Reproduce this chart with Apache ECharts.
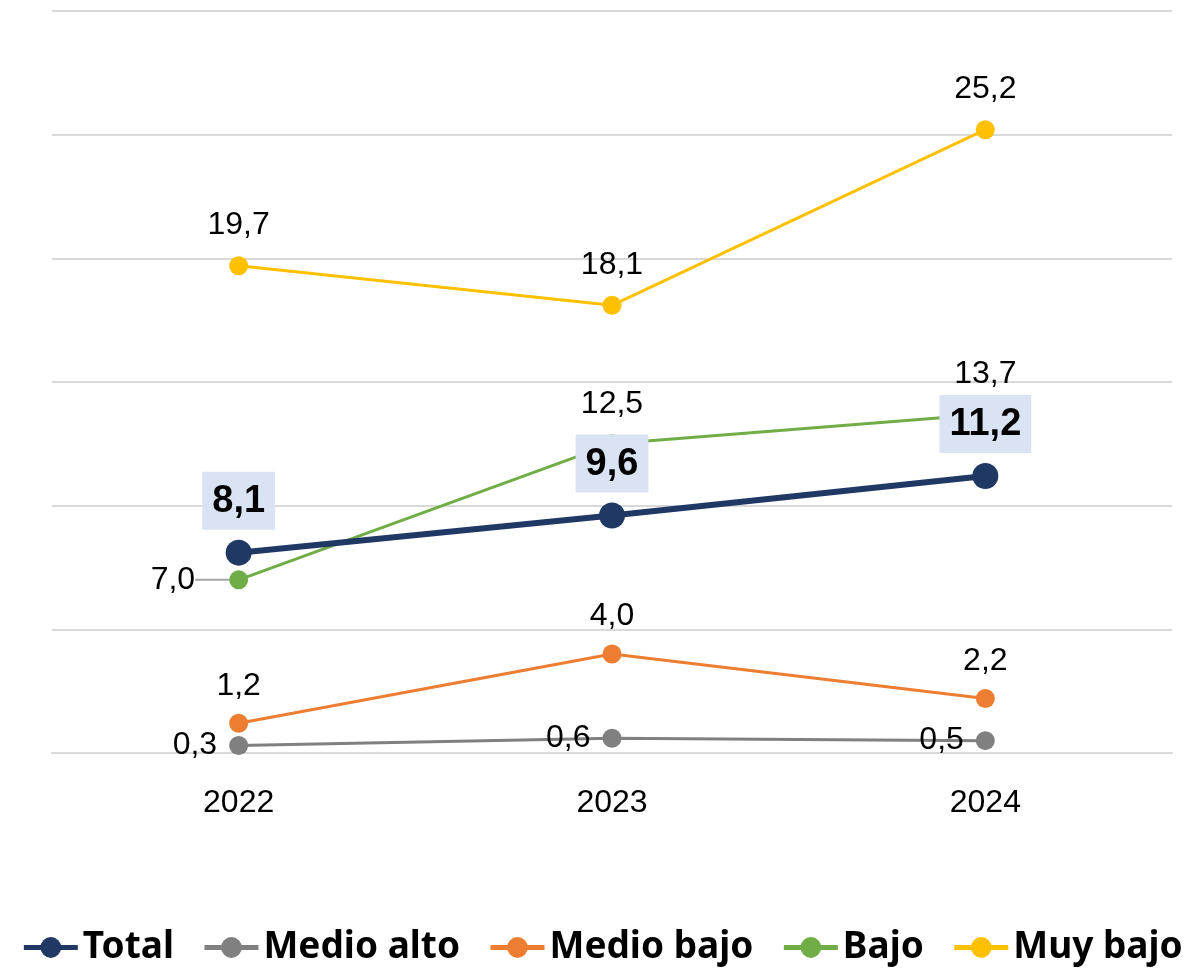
<!DOCTYPE html>
<html>
<head>
<meta charset="utf-8">
<script src="https://cdn.jsdelivr.net/npm/echarts@6/dist/echarts.min.js"></script>
<style>
  html, body { margin: 0; padding: 0; background: #fff; }
  #main { width: 1204px; height: 968px; }
</style>
</head>
<body>
<div id="main"></div>
<script>
const years = ['2022', '2023', '2024'];
const total = [8.1, 9.6, 11.2];
const medioAlto = [0.3, 0.6, 0.5];
const medioBajo = [1.2, 4.0, 2.2];
const bajo = [7.0, 12.5, 13.7];
const muyBajo = [19.7, 18.1, 25.2];

// comma decimals, as in the original
const fmt = p => Number(p.value).toFixed(1).replace('.', ',');
const labelFont = 'Liberation Sans';

var chart = echarts.init(document.getElementById('main'));

function plain(name, data, color, pos, dist) {
  return {
    name: name,
    type: 'line',
    data: data,
    symbol: 'circle',
    symbolSize: 19,
    lineStyle: { width: 3, color: color },
    itemStyle: { color: color },
    label: {
      show: true,
      position: pos,
      distance: dist,
      formatter: fmt,
      fontSize: 32,
      fontFamily: labelFont,
      color: '#000'
    }
  };
}

var bajoSeries = plain('Bajo', bajo, '#70AD47', 'top', 14);
// first point label sits to the left, pulled away with a short leader line
bajoSeries.data = bajo.map((v, i) => i === 0
  ? { value: v, label: { position: 'left', distance: 4 },
      labelLine: { show: true, lineStyle: { color: '#a6a6a6', width: 2 } } }
  : v);
bajoSeries.labelLayout = function (p) {
  if (p.dataIndex === 0) return { dx: -30 };
};
bajoSeries.labelLine = { show: false };

var option = {
  animation: false,
  grid: { left: 52, right: 32, top: 11, bottom: 215 },
  xAxis: {
    type: 'category',
    data: years,
    boundaryGap: true,
    axisLine: { lineStyle: { color: '#d9d9d9', width: 2 } },
    axisTick: { show: false },
    axisLabel: { fontSize: 32, fontFamily: labelFont, color: '#000', margin: 34 }
  },
  yAxis: {
    type: 'value',
    min: 0,
    max: 30,
    interval: 5,
    axisLabel: { show: false },
    axisLine: { show: false },
    axisTick: { show: false },
    splitLine: { lineStyle: { color: '#d9d9d9', width: 2 } }
  },
  legend: {
    top: 924,
    left: 'center',
    itemWidth: 54,
    itemHeight: 26,
    itemGap: 28,
    lineStyle: { width: 5 },
    textStyle: { fontSize: 37, fontWeight: 'bold', fontFamily: 'Noto Sans', color: '#000' },
    data: ['Total', 'Medio alto', 'Medio bajo', 'Bajo', 'Muy bajo']
  },
  series: [
    plain('Muy bajo', muyBajo, '#FFC000', 'top', 15),
    bajoSeries,
    plain('Medio bajo', medioBajo, '#ED7D31', 'top', 12),
    plain('Medio alto', medioAlto, '#808080', 'left', 12),
    {
      name: 'Total',
      type: 'line',
      data: total,
      symbol: 'circle',
      symbolSize: 26,
      z: 5,
      lineStyle: { width: 6, color: '#203864' },
      itemStyle: { color: '#203864' },
      label: {
        show: true,
        position: 'top',
        distance: 10,
        formatter: fmt,
        fontSize: 38,
        fontWeight: 'bold',
        fontFamily: labelFont,
        color: '#000',
        backgroundColor: '#DAE3F3',
        padding: [11, 10, 9, 10]
      }
    }
  ]
};
chart.setOption(option);
</script>
</body>
</html>
